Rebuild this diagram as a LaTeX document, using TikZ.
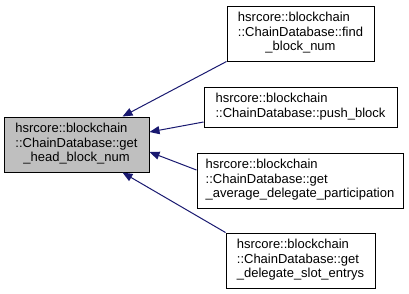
\documentclass[tikz,border=0pt]{standalone}
\usepackage{fontspec}
\setmainfont{Liberation Sans}
\usetikzlibrary{arrows.meta}

\definecolor{edgeblue}{RGB}{25,25,112}
\definecolor{focusgray}{RGB}{191,191,191}

% Doxygen-style labels: leading lines flush left, last line centred
\newcommand\dxthree[3]{%
  \begin{tabular}{@{}l@{}}#1\\#2\\\multicolumn{1}{@{}c@{}}{#3}\end{tabular}}
\newcommand\dxtwo[2]{%
  \begin{tabular}{@{}l@{}}#1\\\multicolumn{1}{@{}c@{}}{#2}\end{tabular}}

\tikzset{
  fnbox/.style={draw=black, line width=1pt, fill=white, inner sep=0pt,
    font=\fontsize{13}{14.5}\selectfont},
  focusbox/.style={fnbox, fill=focusgray},
  calledge/.style={draw=edgeblue, line width=1pt,
    -{Triangle[length=10pt,width=8pt,fill=edgeblue]}}
}

\begin{document}
\begin{tikzpicture}[x=1pt,y=-1pt]
\useasboundingbox (0,0) rectangle (409,293);

\node[focusbox, minimum width=145pt, minimum height=55pt] (main) at (76.5,144.5)
  {\dxthree{hsrcore::blockchain}{::ChainDatabase::get}{\_head\_block\_num}};

\node[fnbox, minimum width=147pt, minimum height=55pt] (find) at (300.5,33.5)
  {\dxthree{hsrcore::blockchain}{::ChainDatabase::find}{\_block\_num}};

\node[fnbox, minimum width=193pt, minimum height=40pt] (push) at (300.5,107)
  {\dxtwo{hsrcore::blockchain}{::ChainDatabase::push\_block}};

\node[fnbox, minimum width=206pt, minimum height=55pt] (avg) at (300,180.5)
  {\dxthree{hsrcore::blockchain}{::ChainDatabase::get}{\_average\_delegate\_participation}};

\node[fnbox, minimum width=149pt, minimum height=55pt] (slot) at (300.5,260.5)
  {\dxthree{hsrcore::blockchain}{::ChainDatabase::get}{\_delegate\_slot\_entrys}};

\draw[calledge] (find.south west) -- ([xshift=-27pt]main.north east);
\draw[calledge] ([yshift=-15pt]push.west) -- ([yshift=12.5pt]main.east);
\draw[calledge] ([yshift=10.5pt]avg.west) -- ([yshift=-7.5pt]main.east);
\draw[calledge] (slot.north west) -- ([xshift=-27pt]main.south east);
\end{tikzpicture}
\end{document}
